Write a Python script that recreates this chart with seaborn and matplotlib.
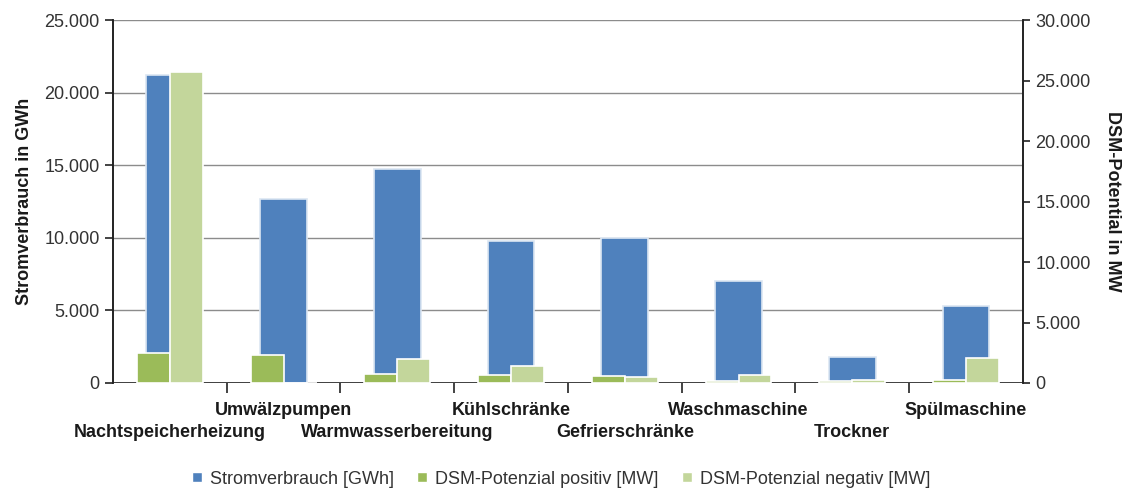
import matplotlib
matplotlib.use("Agg")
import matplotlib.pyplot as plt
import matplotlib.transforms as mtransforms
import seaborn as sns
import pandas as pd
from matplotlib.ticker import FuncFormatter, FixedLocator
from matplotlib.patches import Patch

categories = ["Nachtspeicherheizung", "Umwälzpumpen", "Warmwasserbereitung", "Kühlschränke",
              "Gefrierschränke", "Waschmaschine", "Trockner", "Spülmaschine"]
stromverbrauch = [21200, 12700, 14750, 9750, 10000, 7050, 1800, 5300]
dsm_positiv = [2480, 2340, 750, 630, 600, 190, 140, 260]
dsm_negativ = [25700, 0, 2000, 1400, 500, 700, 250, 2100]

label_strom = "Stromverbrauch [GWh]"
label_pos = "DSM-Potenzial positiv [MW]"
label_neg = "DSM-Potenzial negativ [MW]"

c_blue = "#4F81BD"
c_green = "#9BBB59"
c_light = "#C3D69B"

sns.set_style("white")
plt.rcParams["font.family"] = ["Liberation Sans", "DejaVu Sans"]

fig = plt.figure(figsize=(11.29, 4.91), dpi=100)
ax = fig.add_axes([0.100, 0.220, 0.806, 0.739])

df1 = pd.DataFrame({"cat": categories, "val": stromverbrauch})
sns.barplot(data=df1, x="cat", y="val", ax=ax, color=c_blue, saturation=1,
            width=0.41, edgecolor="#DCE6F2", linewidth=1.2, zorder=2)

ax2 = ax.twinx()
df2 = pd.DataFrame({
    "cat": categories * 2,
    "val": dsm_positiv + dsm_negativ,
    "typ": [label_pos] * len(categories) + [label_neg] * len(categories),
})
sns.barplot(data=df2, x="cat", y="val", hue="typ", ax=ax2,
            palette=[c_green, c_light], saturation=1, width=0.58,
            edgecolor="white", linewidth=1.2, legend=False, zorder=3)

n = len(categories)
for a in (ax, ax2):
    a.set_xlim(-0.5, n - 0.5)
    a.set_xlabel("")
ax.set_ylim(0, 25000)
ax2.set_ylim(0, 30000)
ax.set_yticks(range(0, 25001, 5000))
ax2.set_yticks(range(0, 30001, 5000))

fmt = FuncFormatter(lambda v, p: f"{int(v):,}".replace(",", "."))
ax.yaxis.set_major_formatter(fmt)
ax2.yaxis.set_major_formatter(fmt)

# gridlines
ax.yaxis.grid(True, color="#8C8C8C", linewidth=1.0, zorder=0)
ax.set_axisbelow(True)
ax.axhline(0, color="#333333", linewidth=1.3, zorder=1)

for a in (ax, ax2):
    a.spines["top"].set_visible(False)
    a.spines["bottom"].set_visible(False)
    a.spines["left"].set_color("#222222")
    a.spines["right"].set_color("#222222")
    a.spines["left"].set_linewidth(1.2)
    a.spines["right"].set_linewidth(1.2)

# x tick labels: staggered, as separate texts
ax.set_xticks(range(n))
ax.set_xticklabels([""] * n)
ax.tick_params(axis="x", which="major", length=0)
blend = mtransforms.blended_transform_factory(ax.transData, ax.transAxes)
for i, c in enumerate(categories):
    dy_pt = -38.9 if i % 2 == 0 else -23.0
    tr = mtransforms.offset_copy(blend, fig=fig, x=0, y=dy_pt, units="points")
    ax.text(i, 0, c, transform=tr, ha="center", va="baseline", fontsize=13,
            fontweight="bold", color="#1A1A1A")

ax.xaxis.set_minor_locator(FixedLocator([i + 0.5 for i in range(n - 1)]))
ax.tick_params(axis="x", which="minor", length=7, width=1.2, color="#222222", direction="out", bottom=True)
ax2.tick_params(axis="x", which="both", bottom=False, labelbottom=False, top=False)

ax.tick_params(axis="y", length=6, width=1.2, color="#222222", direction="out", left=True,
               labelsize=13, labelcolor="#333333", pad=3.5)
ax2.tick_params(axis="y", length=5, width=1.2, color="#222222", direction="out", right=True,
                labelsize=13, labelcolor="#333333", pad=4)

ax.set_ylabel("Stromverbrauch in GWh", fontsize=13, fontweight="bold", color="#1A1A1A", labelpad=8)
ax2.set_ylabel("DSM-Potential in MW", fontsize=13, fontweight="bold", color="#1A1A1A",
               rotation=270, labelpad=22)

handles = [Patch(facecolor=c_blue, label=label_strom),
           Patch(facecolor=c_green, label=label_pos),
           Patch(facecolor=c_light, label=label_neg)]
fig.legend(handles=handles, loc="lower center", bbox_to_anchor=(0.497, -0.026), ncol=3,
           frameon=False, fontsize=13, handlelength=0.55, handleheight=0.5,
           handletextpad=0.45, columnspacing=1.3, labelcolor="#333333")

fig.savefig("out.png", dpi=100)
